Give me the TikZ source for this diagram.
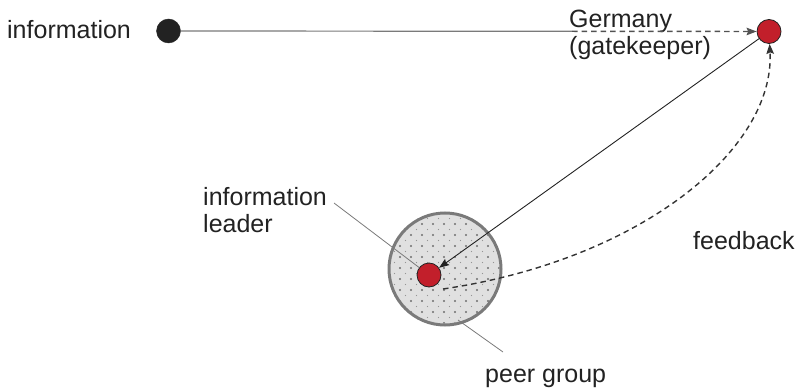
\documentclass[tikz,border=0pt]{standalone}
\usepackage{fontspec}
\setmainfont{Liberation Sans}
\usetikzlibrary{arrows.meta}
\definecolor{txt}{HTML}{222222}
\definecolor{reddot}{HTML}{C21F2B}
\definecolor{ringgray}{HTML}{7A7A7A}
\definecolor{fillgray}{HTML}{E0E0E0}
\definecolor{dotgray}{HTML}{6E6E6E}
\definecolor{dotlight}{HTML}{959595}
\definecolor{linegray}{HTML}{7A7A7A}
\definecolor{dashgray}{HTML}{333333}
\begin{document}
\begin{tikzpicture}[x=1pt,y=-1pt,
  label/.style={font=\fontsize{25}{27}\selectfont, text=txt, inner sep=0pt, anchor=base west, align=left},
  blackdot/.style={circle, fill=txt, draw=txt, minimum size=24pt, inner sep=0pt},
  actor/.style={circle, fill=reddot, draw=txt, line width=0.8pt, minimum size=24pt, inner sep=0pt},
  group/.style={circle, fill=fillgray, draw=ringgray, line width=3pt, minimum size=112pt, inner sep=0pt},
  pointer/.style={draw=linegray, line width=0.8pt},
  tip/.style={-{Stealth[length=10pt,width=7.5pt,inset=1.5pt]}},
  flow/.style={draw=txt, line width=0.9pt, tip},
  dashflow/.style={draw=dashgray, line width=1.4pt, dash pattern=on 5.5pt off 4pt, tip}]
\useasboundingbox (0,0) rectangle (799,390);

% peer group disc with its dotted texture
\node[group] (peer) at (445,269) {};
\begin{scope}
  \clip (peer.center) circle (54.5);
  \foreach \i in {0,...,21}{
    \foreach \j in {0,...,21}{
      \pgfmathtruncatemacro\s{mod(\i+\j,2)}
      \ifnum\s=0
        \pgfmathtruncatemacro\b{mod(\i,2)}
        \ifnum\b=0
          \fill[dotgray] ({389+\i*5.5},{213+\j*5.5}) circle (1.05);
        \else
          \fill[dotlight] ({389+\i*5.5},{213+\j*5.5}) circle (0.7);
        \fi
      \fi
    }
  }
\end{scope}

% actors
\node[blackdot] (src) at (168.5,31) {};
\node[actor] (gk) at (769,31.5) {};
\node[actor] (leader) at (429,275) {};

% texts (multi-line labels are placed by the baseline of their last line)
\node[label] (infotext) at (7,39) {information};
\node[label] (gktext) at (569,55) {Germany\\(gatekeeper)};
\node[label] (leadtext) at (203,232) {information\\leader};
\node[label] (fbtext) at (693,249) {feedback};
\node[label] (peertext) at (485,382) {peer group};

% pointer lines to the labels
\coordinate (leadptr) at (334,203);
\coordinate (peerptr0) at (458,320);
\coordinate (peerptr) at (503,352);
\draw[pointer] (leadptr) -- (leader);
\draw[pointer] (peerptr0) -- (peerptr);

% information flow
\coordinate (split) at (572,31.3);
\draw[draw=linegray, line width=1.2pt] (src) -- (split);
\draw[dashflow, draw=dashgray!85] (split) -- (gk);
\draw[flow] (gk) -- (leader);

% feedback
\coordinate (fbstart) at (443,289);
\draw[dashflow] (fbstart) .. controls (640,260) and (775,150) .. (gk);
\end{tikzpicture}
\end{document}
